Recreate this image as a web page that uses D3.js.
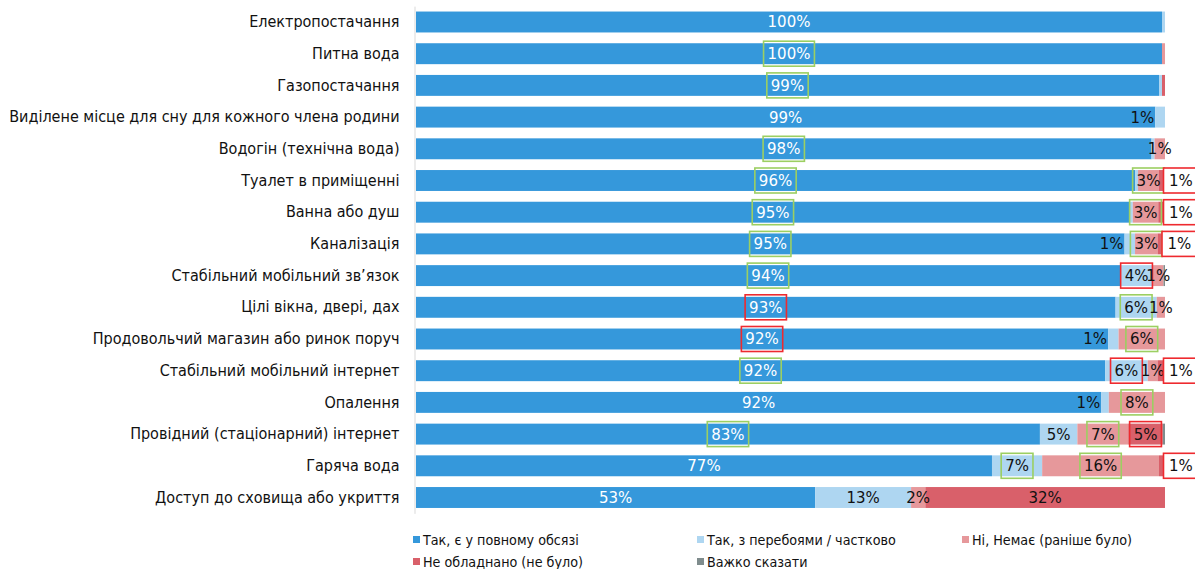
<!DOCTYPE html>
<html>
<head>
<meta charset="utf-8">
<script src="https://cdn.jsdelivr.net/npm/d3@7"></script>
<style>
  html, body { margin: 0; padding: 0; background: #fff; }
  svg { display: block; }
</style>
</head>
<body>
<svg id="chart" width="1195" height="569"></svg>
<script>
// Categories (top to bottom)
const categories = [
  "Електропостачання",
  "Питна вода",
  "Газопостачання",
  "Виділене місце для сну для кожного члена родини",
  "Водогін (технічна вода)",
  "Туалет в приміщенні",
  "Ванна або душ",
  "Каналізація",
  "Стабільний мобільний зв’язок",
  "Цілі вікна, двері, дах",
  "Продовольчий магазин або ринок поруч",
  "Стабільний мобільний інтернет",
  "Опалення",
  "Провідний (стаціонарний) інтернет",
  "Гаряча вода",
  "Доступ до сховища або укриття"
];

// Series values, % of respondents
const fullAccess   = [99.6, 99.6, 99.2, 98.7, 98.2, 96.0, 95.3, 94.6, 94.0, 93.4, 92.4, 92.0, 91.5, 83.3, 76.9, 53.3];
const partial      = [0.4, 0, 0.4, 1.3, 0.4, 0.4, 0.4, 1.4, 4.4, 5.5, 1.4, 5.7, 1.0, 5.0, 6.7, 12.8];
const noneNow      = [0, 0.4, 0, 0, 1.4, 2.8, 3.4, 3.0, 1.4, 1.1, 6.2, 1.3, 7.5, 6.8, 15.6, 1.9];
const notEquipped  = [0, 0, 0.4, 0, 0, 0.8, 0.9, 0.8, 0, 0, 0, 1.0, 0, 4.6, 0.8, 32.0];
const hardToSay    = [0, 0, 0, 0, 0, 0, 0, 0.2, 0.2, 0, 0, 0, 0, 0.3, 0, 0];

// Significance markers on the labels: "g" = higher, "r" = lower, "" = none
const fullMark        = ["", "g", "g", "", "g", "g", "g", "g", "g", "r", "r", "g", "", "g", "", ""];
const partialMark     = ["", "", "", "", "", "", "", "", "r", "g", "", "r", "", "", "g", ""];
const noneNowMark     = ["", "", "", "", "", "g", "g", "g", "", "", "g", "", "g", "g", "g", ""];
const notEquippedMark = ["", "", "", "", "", "r", "r", "r", "", "", "", "r", "", "r", "r", ""];
const hardToSayMark   = ["", "", "", "", "", "", "", "", "", "", "", "", "", "", "", ""];

// Legend names
const seriesNames = [
  "Так, є у повному обсязі",
  "Так, з перебоями / частково",
  "Ні, Немає (раніше було)",
  "Не обладнано (не було)",
  "Важко сказати"
];

const seriesKeys = ["full", "partial", "noneNow", "notEquipped", "hardToSay"];
const seriesValues = [fullAccess, partial, noneNow, notEquipped, hardToSay];
const seriesMarks = [fullMark, partialMark, noneNowMark, notEquippedMark, hardToSayMark];
const colors = ["#3598db", "#aed6f1", "#e6989b", "#d9606a", "#7f8c8d"];
const markColor = { g: "#9ccf62", r: "#ee2a2f" };

const rows = categories.map((c, i) => {
  const r = { category: c, index: i };
  seriesKeys.forEach((k, j) => { r[k] = seriesValues[j][i]; });
  return r;
});

const svg = d3.select("#chart");

const x = d3.scaleLinear().domain([0, 100]).range([416, 1165]);
const y = d3.scaleBand()
  .domain(categories)
  .range([6.15, 513.35])
  .paddingInner(0.34)
  .paddingOuter(0.17);

const stacked = d3.stack().keys(seriesKeys)(rows);

// Bars
const layers = svg.append("g").selectAll("g")
  .data(stacked)
  .join("g")
  .attr("fill", (d, i) => colors[i]);

layers.selectAll("rect")
  .data(d => d)
  .join("rect")
  .attr("x", d => x(d[0]))
  .attr("y", d => y(d.data.category))
  .attr("width", d => Math.max(0, x(d[1]) - x(d[0])))
  .attr("height", y.bandwidth());

const condensed = "'DejaVu Sans Condensed', 'DejaVu Sans', sans-serif";
const regular = "'DejaVu Sans', sans-serif";

// Category axis
const axis = svg.append("g")
  .attr("transform", "translate(414.5,0)")
  .call(d3.axisLeft(y).tickSize(0).tickPadding(15));
axis.select(".domain").attr("stroke", "#d9d9d9").attr("stroke-width", 1);
axis.selectAll("text")
  .attr("font-family", condensed)
  .attr("font-size", 16)
  .attr("fill", "#111");

// Value labels
const labelLayer = svg.append("g");
stacked.forEach((layer, si) => {
  layer.forEach(d => {
    const v = d[1] - d[0];
    const pct = Math.round(v);
    if (pct < 1) return;
    const i = d.data.index;
    const mark = seriesMarks[si][i];
    const x0 = x(d[0]), x1 = x(d[1]);
    const cy = y(d.data.category) + y.bandwidth() / 2;
    const g = labelLayer.append("g");
    const t = g.append("text")
      .attr("y", cy)
      .attr("dy", "0.36em")
      .attr("font-family", regular)
      .attr("font-size", 15)
      .attr("fill", si === 0 ? "#fff" : "#111")
      .text(pct + "%");
    const w = t.node().getComputedTextLength();
    const segW = x1 - x0;
    let outside = false;
    let cx;
    if (si === 1 && segW < w) {
      cx = x0 - 1 - w / 2;
    } else if (si === 3 && segW < w) {
      outside = true;
      cx = x1 + 4 + w / 2;
    } else {
      cx = (x0 + x1) / 2;
    }
    t.attr("x", cx).attr("text-anchor", "middle");
    if (mark) {
      const pad = 4;
      g.insert("rect", "text")
        .attr("x", outside ? x1 - 1.5 : cx - w / 2 - pad)
        .attr("y", cy - 12.5)
        .attr("width", outside ? w + 12 : w + pad * 2)
        .attr("height", 25)
        .attr("fill", outside ? "#fff" : "none")
        .attr("stroke", markColor[mark])
        .attr("stroke-width", 1.6);
    }
  });
});

// Legend
const legendPos = [[413, 540], [697, 540], [962, 540], [413, 562], [697, 562]];
const legend = svg.append("g");
seriesNames.forEach((name, i) => {
  const [lx, ly] = legendPos[i];
  legend.append("rect")
    .attr("x", lx).attr("y", ly - 4)
    .attr("width", 7).attr("height", 7)
    .attr("fill", colors[i]);
  legend.append("text")
    .attr("x", lx + 10).attr("y", ly)
    .attr("dy", "0.36em")
    .attr("font-family", condensed)
    .attr("font-size", 14.2)
    .attr("fill", "#111")
    .text(name);
});
</script>
</body>
</html>
